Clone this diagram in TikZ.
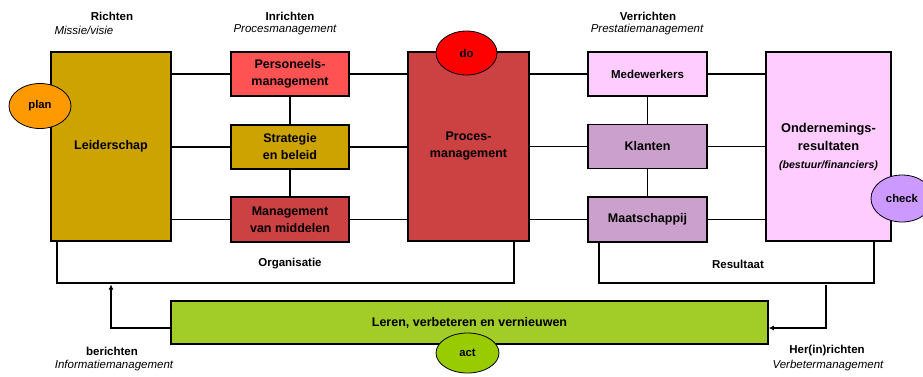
\documentclass[tikz,border=0pt]{standalone}
\usepackage{fontspec}
\setmainfont{Liberation Sans}
\usetikzlibrary{arrows.meta,positioning,shapes.geometric}
\definecolor{goldbox}{RGB}{204,163,0}
\definecolor{redbox}{RGB}{255,82,82}
\definecolor{darkred}{RGB}{204,65,65}
\definecolor{pinkbox}{RGB}{255,204,255}
\definecolor{mauvebox}{RGB}{204,160,204}
\definecolor{greenbox}{RGB}{162,204,40}
\definecolor{planorange}{RGB}{255,153,0}
\definecolor{dored}{RGB}{255,0,0}
\definecolor{checklila}{RGB}{204,153,255}
\definecolor{actgreen}{RGB}{153,204,0}

\begin{document}
\begin{tikzpicture}[x=1pt, y=-1pt,
    box/.style={draw=black, line width=1.5pt, inner sep=0pt, align=center,
                font=\fontsize{12.5}{17}\selectfont\bfseries},
    smallbox/.style={box, minimum width=118, minimum height=44},
    bigbox/.style={box, minimum height=189},
    pdca/.style={ellipse, draw=black, line width=0.8pt, inner sep=0pt,
                 font=\fontsize{11.3}{13}\selectfont\bfseries},
    head/.style={font=\fontsize{11.5}{13}\selectfont\bfseries},
    sub/.style={font=\fontsize{11.5}{13}\selectfont\itshape},
    link/.style={line width=1.5pt},
    arr/.style={-{Latex[length=5pt,width=5pt]}, line width=1.3pt}
  ]
    \useasboundingbox (0,0) rectangle (923,376);

    % kolom 1
    \node[bigbox, fill=goldbox, minimum width=120] (leider) at (111,146.5) {Leiderschap};
    % kolom 2
    \node[smallbox, fill=redbox] (pers) at (290,74) {Personeels-\\management};
    \node[smallbox, fill=goldbox] (strat) at (290,147) {Strategie\\en beleid};
    \node[smallbox, fill=darkred, minimum height=45] (middel) at (290,219.5) {Management\\van middelen};
    % kolom 3
    \node[bigbox, fill=darkred, minimum width=121] (proces) at (468.5,146.5) {Proces-\\management};
    % kolom 4
    \node[smallbox, fill=pinkbox, minimum width=119,
          font=\fontsize{11.5}{13}\selectfont\bfseries] (mede) at (647.5,74) {Medewerkers};
    \node[smallbox, fill=mauvebox, minimum width=119] (klant) at (647.5,146.5) {Klanten};
    \node[smallbox, fill=mauvebox, minimum width=119, minimum height=45] (maat) at (647.5,219.5) {Maatschappij};
    % kolom 5
    \node[bigbox, fill=pinkbox, minimum width=125, font=\fontsize{12.8}{18}\selectfont\bfseries] (onder) at (828.5,146.5)
      {Ondernemings-\\resultaten\\{\fontsize{10.6}{13}\selectfont\itshape(bestuur/financiers)}};
    % onderbalk
    \node[box, fill=greenbox, minimum width=597, minimum height=43] (leren) at (469.5,322.5)
      {Leren, verbeteren en vernieuwen};

    % plan-do-check-act
    \node[pdca, fill=planorange, minimum width=62, minimum height=45] (plan) at (40,106) {plan};
    \node[pdca, fill=dored, minimum width=61, minimum height=44] (do) at (466.5,53) {do};
    \node[pdca, fill=checklila, minimum width=62, minimum height=47] (check) at (902,198.5) {check};
    \node[pdca, fill=actgreen, minimum width=63, minimum height=40] (act) at (467.5,353) {act};

    % koppen
    \node[head] (richten) at (112,16) {Richten};
    \node[sub] (missie) at (84,30) {Missie/visie};
    \node[head] (inrichten) at (290,16) {Inrichten};
    \node[sub] (procm) at (285,30) {Procesmanagement};
    \node[head] (verrichten) at (648,16) {Verrichten};
    \node[sub] (prestm) at (647,30) {Prestatiemanagement};
    \node[head] (berichten) at (112,351) {berichten};
    \node[sub] (infom) at (114,366) {Informatiemanagement};
    \node[head] (herrichten) at (827,351) {Her(in)richten};
    \node[sub] (verbm) at (828,366) {Verbetermanagement};
    \node[head] (organisatie) at (290,264) {Organisatie};
    \node[head] (resultaat) at (738,264) {Resultaat};

    % verbindingen
    \foreach \b in {pers,strat,middel}
      \draw[link] (leider.east |- \b.west) -- (\b.west);
    \foreach \b in {pers,strat,middel}
      \draw[link] (\b.east) -- (proces.west |- \b.east);
    \foreach \b in {mede,klant,maat}
      \draw[link] (proces.east |- \b.west) -- (\b.west);
    \foreach \b in {mede,klant,maat}
      \draw[link] (\b.east) -- (onder.west |- \b.east);
    \foreach \a/\b in {pers/strat,strat/middel,mede/klant,klant/maat}
      \draw[link] (\a.south) -- (\b.north);

    % haken
    \coordinate (orgL) at (57,283);
    \coordinate (orgR) at (514,283);
    \coordinate (resL) at (599,283);
    \coordinate (resR) at (874,283);
    \draw[link] (leider.south -| orgL) -- (orgL) -- (orgR) -- (proces.south -| orgR);
    \draw[link] (maat.south -| resL) -- (resL) -- (resR) -- (onder.south -| resR);

    % terugkoppeling
    \coordinate (berA) at (111,284.5);
    \coordinate (herA) at (826,284.5);
    \draw[arr] ([yshift=-5.5]leren.west) -| (berA);
    \draw[arr] (herA) |- ([yshift=-5.5]leren.east);
\end{tikzpicture}
\end{document}
